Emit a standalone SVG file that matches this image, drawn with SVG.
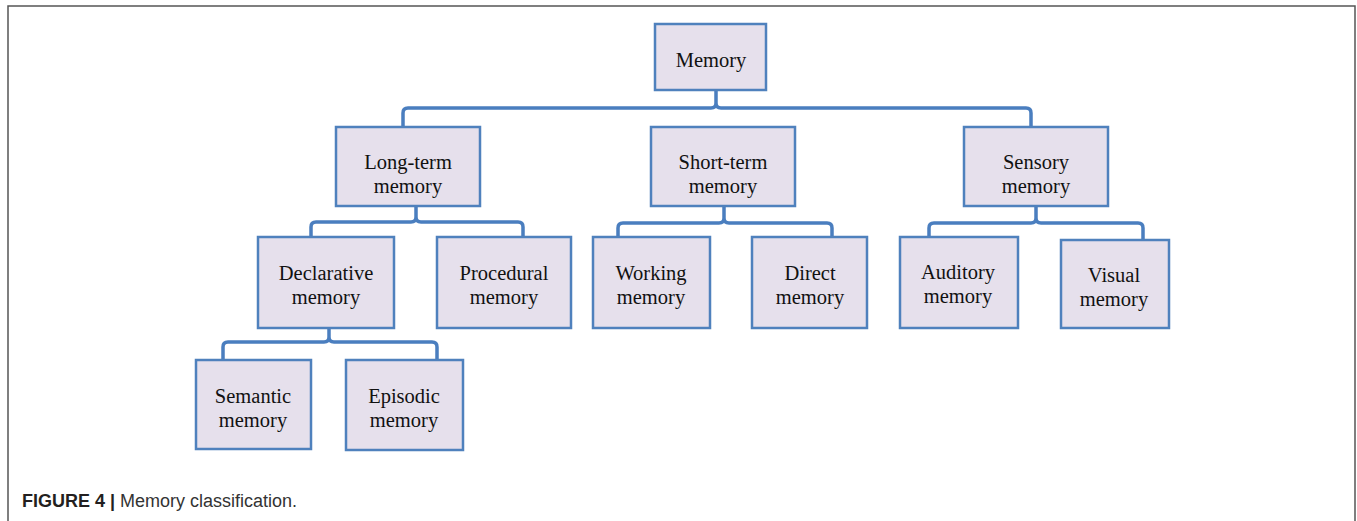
<svg xmlns="http://www.w3.org/2000/svg" width="1357" height="521" viewBox="0 0 1357 521">
<style>
.box{fill:#e6e0ec;stroke:#4f81bd;stroke-width:2.5}
.t{font-family:"Liberation Serif","Times New Roman",serif;font-size:20.5px;fill:#111;text-anchor:middle}
.c{fill:none;stroke:#4a7ebf;stroke-width:3.5;stroke-linejoin:round;stroke-linecap:round}
.cap{font-family:"Liberation Sans",Arial,sans-serif;font-size:18px;fill:#333}
</style>
<rect width="1357" height="521" fill="#fff"/>
<path d="M8,521 V6 H1355 V521" fill="none" stroke="#555" stroke-width="1.5"/>
<g id="connectors" class="c">
<path d="M403,127 V113 Q403,108 408,108 H711 Q716,108 716,103 V91 M716,103 Q716,108 721,108 H1026 Q1031,108 1031,113 V127"/>
<path d="M311,237 V227 Q311,222 316,222 H411 Q416,222 416,217 V207 M416,217 Q416,222 421,222 H518 Q523,222 523,227 V237"/>
<path d="M618,240 V228 Q618,223 623,223 H719 Q724,223 724,218 V207 M724,218 Q724,223 729,223 H827 Q832,223 832,228 V240"/>
<path d="M929,240 V228 Q929,223 934,223 H1031 Q1036,223 1036,218 V207 M1036,218 Q1036,223 1041,223 H1138 Q1143,223 1143,228 V240"/>
<path d="M223,360 V347 Q223,342 228,342 H324 Q329,342 329,337 V328 M329,337 Q329,342 334,342 H432 Q437,342 437,347 V360"/>
</g>
<g id="memory"><rect class="box" x="655" y="24" width="111" height="66"/><text class="t" x="711" y="67">Memory</text></g>
<g id="long-term"><rect class="box" x="336" y="127" width="144" height="79"/><text class="t" x="408" y="169">Long-term</text><text class="t" x="408" y="193">memory</text></g>
<g id="short-term"><rect class="box" x="651" y="127" width="144" height="79"/><text class="t" x="723" y="169">Short-term</text><text class="t" x="723" y="193">memory</text></g>
<g id="sensory"><rect class="box" x="964" y="127" width="144" height="79"/><text class="t" x="1036" y="169">Sensory</text><text class="t" x="1036" y="193">memory</text></g>
<g id="declarative"><rect class="box" x="258" y="237" width="136" height="91"/><text class="t" x="326" y="280">Declarative</text><text class="t" x="326" y="304">memory</text></g>
<g id="procedural"><rect class="box" x="437" y="237" width="134" height="91"/><text class="t" x="504" y="280">Procedural</text><text class="t" x="504" y="304">memory</text></g>
<g id="working"><rect class="box" x="593" y="237" width="117" height="91"/><text class="t" x="651" y="280">Working</text><text class="t" x="651" y="304">memory</text></g>
<g id="direct"><rect class="box" x="752" y="237" width="115" height="91"/><text class="t" x="810" y="280">Direct</text><text class="t" x="810" y="304">memory</text></g>
<g id="auditory"><rect class="box" x="900" y="237" width="118" height="91"/><text class="t" x="958" y="279">Auditory</text><text class="t" x="958" y="303">memory</text></g>
<g id="visual"><rect class="box" x="1061" y="240" width="108" height="88"/><text class="t" x="1114" y="282">Visual</text><text class="t" x="1114" y="306">memory</text></g>
<g id="semantic"><rect class="box" x="196" y="360" width="115" height="89"/><text class="t" x="253" y="403">Semantic</text><text class="t" x="253" y="427">memory</text></g>
<g id="episodic"><rect class="box" x="346" y="360" width="117" height="90"/><text class="t" x="404" y="403">Episodic</text><text class="t" x="404" y="427">memory</text></g>
<text class="cap" x="22" y="507"><tspan font-weight="bold" fill="#231f20">FIGURE 4 | </tspan>Memory classification.</text>
</svg>
